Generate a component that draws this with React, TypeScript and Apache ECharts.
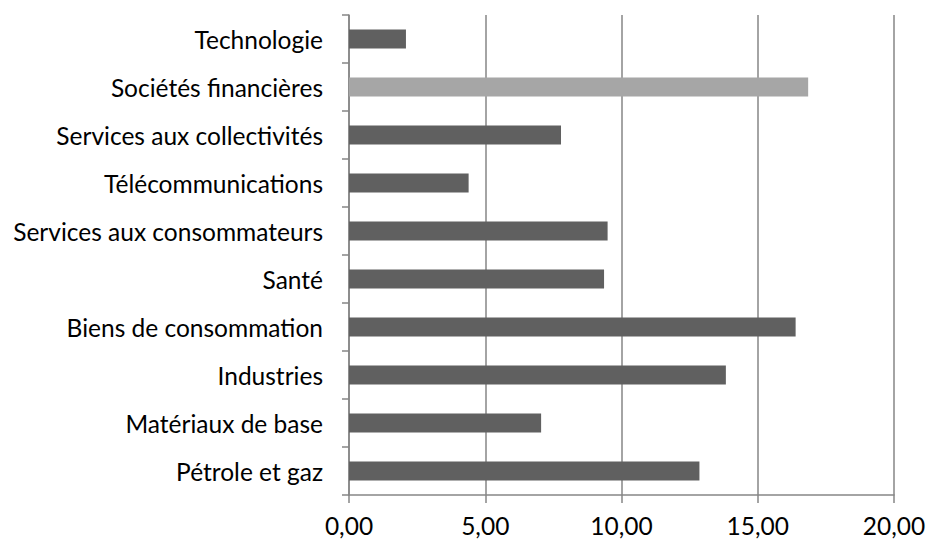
import React, { useEffect, useRef } from "react";
import * as echarts from "echarts";

const categories = [
  "Pétrole et gaz",
  "Matériaux de base",
  "Industries",
  "Biens de consommation",
  "Santé",
  "Services aux consommateurs",
  "Télécommunications",
  "Services aux collectivités",
  "Sociétés financières",
  "Technologie",
];
const values = [12.86, 7.05, 13.83, 16.39, 9.36, 9.49, 4.39, 7.78, 16.85, 2.09];
const highlighted = ["Sociétés financières"];
const xTicks = [0, 5, 10, 15, 20];

export default function App() {
  const ref = useRef<HTMLDivElement>(null);
  useEffect(() => {
    if (!ref.current) return;
    const chart = echarts.init(ref.current, undefined, { renderer: "svg" });
    chart.setOption({
      animation: false,
      backgroundColor: "#ffffff",
      grid: { left: 349, right: 35, top: 15, bottom: 46, containLabel: false },
      xAxis: {
        type: "value",
        min: xTicks[0],
        max: xTicks[xTicks.length - 1],
        interval: 5,
        axisLine: { show: true, lineStyle: { color: "#868686", width: 1.5 } },
        axisTick: { show: true, length: 8, lineStyle: { color: "#868686", width: 1.5 } },
        splitLine: { show: true, lineStyle: { color: "#868686", width: 1.5 } },
        axisLabel: {
          color: "#000000",
          fontFamily: "Lato",
          fontSize: 24.5,
          lineHeight: 20,
          margin: 20,
          formatter: (v: number) => v.toFixed(2).replace(".", ","),
        },
      },
      yAxis: {
        type: "category",
        data: categories,
        axisLine: { show: true, lineStyle: { color: "#868686", width: 1.5 } },
        axisTick: { show: true, length: 7, lineStyle: { color: "#868686", width: 1.5 } },
        splitLine: { show: false },
        axisLabel: {
          color: "#000000",
          fontFamily: "Lato",
          fontSize: 24.5,
          margin: 26,
        },
      },
      series: [
        {
          type: "bar",
          barWidth: "40%",
          data: values.map((v, i) => ({
            value: v,
            itemStyle: {
              color: highlighted.includes(categories[i]) ? "#a6a6a6" : "#606060",
            },
          })),
        },
      ],
    });
    return () => chart.dispose();
  }, []);
  return <div ref={ref} style={{ width: 929, height: 541, position: "absolute", left: 0, top: 0 }} />;
}
